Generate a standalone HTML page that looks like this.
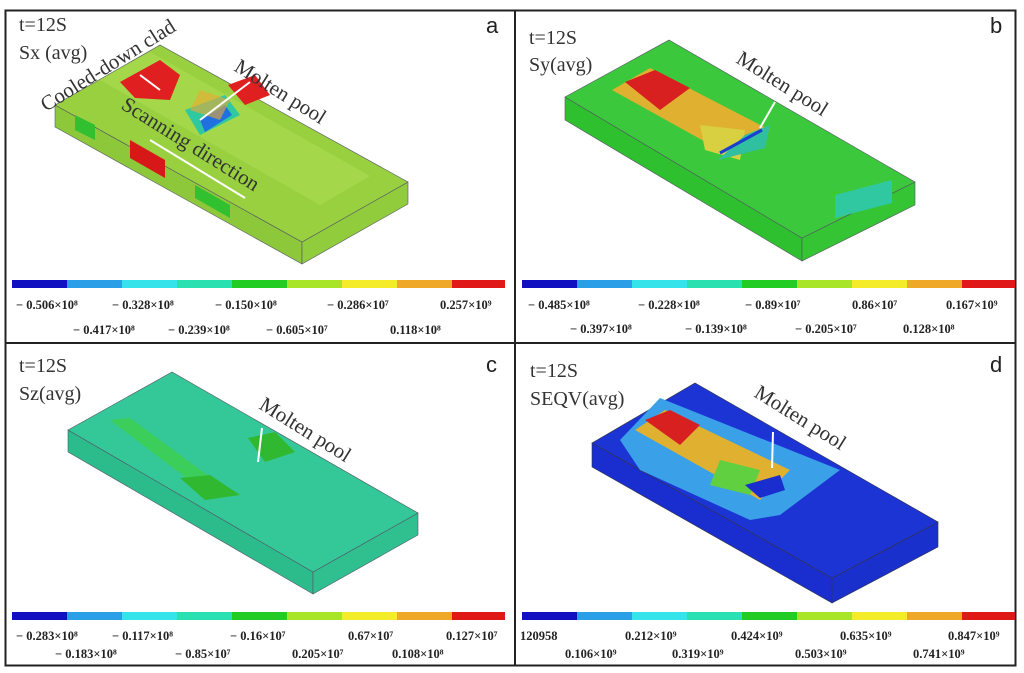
<!DOCTYPE html>
<html><head><meta charset="utf-8"><style>
body{margin:0;background:#fff;width:1024px;height:673px;overflow:hidden}
svg{display:block}
.t{font-family:"Liberation Serif",serif;font-size:20px;fill:#333}
.l{font-family:"Liberation Serif",serif;font-size:12.5px;font-weight:bold;fill:#222}
.p{font-family:"Liberation Sans",sans-serif;font-size:22px;fill:#222}
.m{font-family:"Liberation Serif",serif;font-size:21px;fill:#333}
</style></head><body>
<svg width="1024" height="673" viewBox="0 0 1024 673">
<defs>
<g id="cb">
<rect x="0" y="0" width="55" height="8" fill="#1010c0"/>
<rect x="55" y="0" width="55" height="8" fill="#2a9ee6"/>
<rect x="110" y="0" width="55" height="8" fill="#34e4ea"/>
<rect x="165" y="0" width="55" height="8" fill="#28e0b0"/>
<rect x="220" y="0" width="55" height="8" fill="#22cc22"/>
<rect x="275" y="0" width="55" height="8" fill="#a8e428"/>
<rect x="330" y="0" width="55" height="8" fill="#f4ec28"/>
<rect x="385" y="0" width="55" height="8" fill="#f0a828"/>
<rect x="440" y="0" width="53" height="8" fill="#e01818"/>
</g>
</defs>
<rect x="5.5" y="10.5" width="1010" height="655" fill="none" stroke="#222" stroke-width="2"/>
<line x1="515" y1="10" x2="515" y2="666" stroke="#222" stroke-width="2"/>
<line x1="5" y1="343" x2="1016" y2="343" stroke="#222" stroke-width="2"/>

<!-- Panel a -->
<polygon points="55,105 302,242 302,264 55,127" fill="#8cc83a" stroke="#556" stroke-width="0.6"/>
<polygon points="302,242 408,182 408,204 302,264" fill="#90cc3c" stroke="#556" stroke-width="0.6"/>
<polygon points="55,105 160,45 408,182 302,242" fill="#98d040" stroke="#556" stroke-width="0.6"/>
<polygon points="100,80 150,52 370,176 320,205" fill="#a4d84a"/>
<polygon points="120,82 160,60 180,75 170,100 135,98" fill="#e02020"/>
<polygon points="130,140 165,160 165,178 130,158" fill="#d81818"/>
<polygon points="75,115 95,125 95,140 75,130" fill="#30c030"/>
<polygon points="195,185 230,205 230,218 195,198" fill="#30c030"/>
<polygon points="185,110 225,95 240,115 200,135" fill="#30c8a0"/>
<polygon points="200,120 225,105 232,115 205,132" fill="#2070e0"/>
<polygon points="228,85 255,75 270,95 245,105" fill="#e02020"/>
<polygon points="200,90 230,100 220,120 190,110" fill="#f0a830" opacity="0.6"/>
<line x1="150" y1="140" x2="245" y2="198" stroke="#fff" stroke-width="2"/>
<line x1="200" y1="120" x2="250" y2="82" stroke="#fff" stroke-width="2"/>
<line x1="160" y1="90" x2="140" y2="75" stroke="#fff" stroke-width="2"/>
<text class="t" x="19" y="31">t=12S</text>
<text class="t" x="19" y="59">Sx (avg)</text>
<text class="m" transform="translate(46,112) rotate(-32)">Cooled-down clad</text>
<text class="m" transform="translate(233,70) rotate(32)">Molten pool</text>
<text class="m" transform="translate(120,108) rotate(32)">Scanning direction</text>
<text class="p" x="486" y="33">a</text>
<use href="#cb" x="12" y="280"/>
<text class="l" x="16" y="309">− 0.506×10⁸</text><text class="l" x="112" y="309">− 0.328×10⁸</text><text class="l" x="215" y="309">− 0.150×10⁸</text><text class="l" x="327" y="309">− 0.286×10⁷</text><text class="l" x="440" y="309">0.257×10⁹</text>
<text class="l" x="73" y="334">− 0.417×10⁸</text><text class="l" x="168" y="334">− 0.239×10⁸</text><text class="l" x="266" y="334">− 0.605×10⁷</text><text class="l" x="390" y="334">0.118×10⁸</text>

<!-- Panel b -->
<polygon points="565,97 802,238 802,261 565,120" fill="#2ec02e" stroke="#556" stroke-width="0.6"/>
<polygon points="802,238 915,182 915,205 802,261" fill="#34c434" stroke="#556" stroke-width="0.6"/>
<polygon points="565,97 669,40 915,182 802,238" fill="#3cc83c" stroke="#556" stroke-width="0.6"/>
<polygon points="612,90 650,68 770,130 720,150" fill="#e0b030"/>
<polygon points="625,82 655,70 690,88 660,110" fill="#d82020"/>
<polygon points="700,125 745,130 740,160 705,150" fill="#d8d040"/>
<polygon points="745,135 770,125 765,148 718,160" fill="#30c0a0"/>
<line x1="720" y1="153" x2="762" y2="130" stroke="#1a3ed0" stroke-width="3"/>
<polygon points="835,195 892,180 892,203 835,218" fill="#30c8a0"/>
<line x1="760" y1="128" x2="775" y2="102" stroke="#fff" stroke-width="2"/>
<text class="t" x="529" y="44">t=12S</text>
<text class="t" x="529" y="71">Sy(avg)</text>
<text class="m" transform="translate(735,62) rotate(32)">Molten pool</text>
<text class="p" x="990" y="33">b</text>
<use href="#cb" x="522" y="280"/>
<text class="l" x="528" y="309">− 0.485×10⁸</text><text class="l" x="638" y="309">− 0.228×10⁸</text><text class="l" x="745" y="309">− 0.89×10⁷</text><text class="l" x="852" y="309">0.86×10⁷</text><text class="l" x="946" y="309">0.167×10⁹</text>
<text class="l" x="570" y="333">− 0.397×10⁸</text><text class="l" x="685" y="333">− 0.139×10⁸</text><text class="l" x="795" y="333">− 0.205×10⁷</text><text class="l" x="903" y="333">0.128×10⁸</text>

<!-- Panel c -->
<polygon points="68,430 313,572 313,594 68,452" fill="#2cbc8c" stroke="#556" stroke-width="0.6"/>
<polygon points="313,572 418,513 418,535 313,594" fill="#30c090" stroke="#556" stroke-width="0.6"/>
<polygon points="68,430 172,372 418,513 313,572" fill="#34c898" stroke="#556" stroke-width="0.6"/>
<polygon points="110,420 130,418 225,488 205,492" fill="#40d040" opacity="0.7"/>
<polygon points="180,478 210,475 240,495 205,500" fill="#30b830"/>
<polygon points="248,438 275,432 295,452 265,462" fill="#30b830"/>
<line x1="258" y1="462" x2="262" y2="428" stroke="#fff" stroke-width="2"/>
<text class="t" x="19" y="372">t=12S</text>
<text class="t" x="19" y="400">Sz(avg)</text>
<text class="m" transform="translate(258,408) rotate(32)">Molten pool</text>
<text class="p" x="486" y="372">c</text>
<use href="#cb" x="12" y="612"/>
<text class="l" x="16" y="640">− 0.283×10⁸</text><text class="l" x="112" y="640">− 0.117×10⁸</text><text class="l" x="230" y="640">− 0.16×10⁷</text><text class="l" x="348" y="640">0.67×10⁷</text><text class="l" x="446" y="640">0.127×10⁷</text>
<text class="l" x="55" y="658">− 0.183×10⁸</text><text class="l" x="175" y="658">− 0.85×10⁷</text><text class="l" x="292" y="658">0.205×10⁷</text><text class="l" x="392" y="658">0.108×10⁸</text>

<!-- Panel d -->
<polygon points="592,443 832,578 832,603 592,467" fill="#1a2ed0" stroke="#334" stroke-width="0.6"/>
<polygon points="832,578 938,522 938,547 832,603" fill="#1a30cc" stroke="#334" stroke-width="0.6"/>
<polygon points="592,443 695,383 938,522 832,578" fill="#1c34d4" stroke="#334" stroke-width="0.6"/>
<polygon points="620,440 660,398 840,470 780,515 750,520 640,470" fill="#3aa0e8"/>
<polygon points="635,430 665,410 790,470 760,500" fill="#e0b030"/>
<polygon points="645,420 670,410 700,425 680,445" fill="#d82020"/>
<polygon points="720,460 760,470 750,495 710,485" fill="#60d040"/>
<polygon points="745,485 780,475 785,490 760,498" fill="#1a2ed0"/>
<line x1="772" y1="468" x2="773" y2="432" stroke="#fff" stroke-width="2"/>
<text class="t" x="530" y="377">t=12S</text>
<text class="t" x="530" y="405">SEQV(avg)</text>
<text class="m" transform="translate(753,396) rotate(32)">Molten pool</text>
<text class="p" x="990" y="372">d</text>
<use href="#cb" x="522" y="612"/>
<text class="l" x="520" y="640">120958</text><text class="l" x="625" y="640">0.212×10⁹</text><text class="l" x="731" y="640">0.424×10⁹</text><text class="l" x="840" y="640">0.635×10⁹</text><text class="l" x="948" y="640">0.847×10⁹</text>
<text class="l" x="565" y="658">0.106×10⁹</text><text class="l" x="672" y="658">0.319×10⁹</text><text class="l" x="795" y="658">0.503×10⁹</text><text class="l" x="913" y="658">0.741×10⁹</text>
</svg>
</body></html>
